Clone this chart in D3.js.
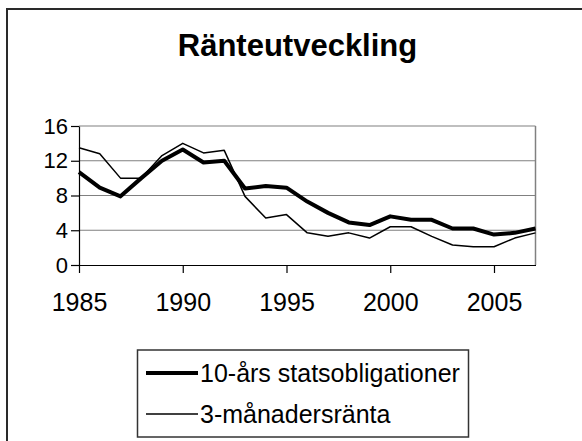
<!DOCTYPE html>
<html>
<head>
<meta charset="utf-8">
<script src="https://cdn.jsdelivr.net/npm/d3@7"></script>
<style>
  html, body { margin: 0; padding: 0; background: #fff; }
  svg { display: block; font-family: "Liberation Sans", Arial, sans-serif; }
</style>
</head>
<body>
<svg id="chart" width="582" height="441"></svg>
<script>
const years = d3.range(1985, 2008);
const bond10y = [10.7, 8.9, 7.9, 10.0, 12.0, 13.3, 11.8, 12.0, 8.8, 9.1, 8.9, 7.3, 6.0, 4.9, 4.6, 5.6, 5.2, 5.2, 4.2, 4.2, 3.5, 3.7, 4.2];
const rate3m  = [13.5, 12.8, 10.0, 10.0, 12.6, 14.0, 12.9, 13.2, 7.9, 5.4, 5.8, 3.7, 3.3, 3.7, 3.1, 4.4, 4.4, 3.3, 2.3, 2.1, 2.1, 3.1, 3.7];
const yTicks = [0, 4, 8, 12, 16];
const xTicks = [1985, 1990, 1995, 2000, 2005];
const title = "Ränteutveckling";
const seriesNames = ["10-års statsobligationer", "3-månadersränta"];

const svg = d3.select("#chart");

// outer frame
svg.append("rect").attr("x", 7).attr("y", 9).attr("width", 600).attr("height", 460)
  .attr("fill", "none").attr("stroke", "#2a2a2a").attr("stroke-width", 2);

// title
svg.append("text").attr("x", 297.5).attr("y", 56).attr("text-anchor", "middle")
  .attr("font-size", 31).attr("font-weight", "bold").attr("fill", "#000").text(title);

const L = 79, R = 535.5, T = 126, B = 265;
const x = d3.scaleLinear().domain([1985, 2007]).range([L, R]);
const y = d3.scaleLinear().domain([0, 16]).range([B, T]);

// gridlines
svg.append("g").selectAll("line").data(yTicks.filter(d => d > 0)).join("line")
  .attr("x1", L).attr("x2", R).attr("y1", d => y(d)).attr("y2", d => y(d))
  .attr("stroke", "#808080").attr("stroke-width", 1.2);
// right border
svg.append("line").attr("x1", R).attr("x2", R).attr("y1", T).attr("y2", B)
  .attr("stroke", "#808080").attr("stroke-width", 1.5);

// axes
const yAxis = svg.append("g").attr("transform", `translate(${L},0)`)
  .call(d3.axisLeft(y).tickValues(yTicks).tickSize(8).tickSizeOuter(0).tickPadding(3));
yAxis.selectAll("text").attr("font-size", 22).attr("fill", "#000").attr("font-family", "Liberation Sans, Arial, sans-serif");
yAxis.selectAll("line, path").attr("stroke", "#000").attr("stroke-width", 1.2);

const xAxis = svg.append("g").attr("transform", `translate(0,${B})`)
  .call(d3.axisBottom(x).tickValues(xTicks).tickFormat(d3.format("d")).tickSize(8).tickSizeOuter(0).tickPadding(20));
xAxis.selectAll("text").attr("font-size", 25).attr("fill", "#000").attr("font-family", "Liberation Sans, Arial, sans-serif");
xAxis.selectAll("line, path").attr("stroke", "#000").attr("stroke-width", 1.2);

// lines
const line = d3.line().x((d, i) => x(years[i])).y(d => y(d));
svg.append("path").datum(rate3m).attr("d", line).attr("fill", "none")
  .attr("stroke", "#000").attr("stroke-width", 1.5).attr("stroke-linejoin", "round");
svg.append("path").datum(bond10y).attr("d", line).attr("fill", "none")
  .attr("stroke", "#000").attr("stroke-width", 4).attr("stroke-linejoin", "round");

// legend
const lg = svg.append("g");
lg.append("rect").attr("x", 137.5).attr("y", 350).attr("width", 331).attr("height", 87)
  .attr("fill", "#fff").attr("stroke", "#333").attr("stroke-width", 1.5);
const rows = [
  { name: seriesNames[0], w: 4, ly: 373 },
  { name: seriesNames[1], w: 1.5, ly: 414 }
];
rows.forEach(r => {
  lg.append("line").attr("x1", 146).attr("x2", 198).attr("y1", r.ly).attr("y2", r.ly)
    .attr("stroke", "#000").attr("stroke-width", r.w);
  lg.append("text").attr("x", 200).attr("y", r.ly + 8.5).attr("font-size", 25)
    .attr("fill", "#000").text(r.name);
});
</script>
</body>
</html>
